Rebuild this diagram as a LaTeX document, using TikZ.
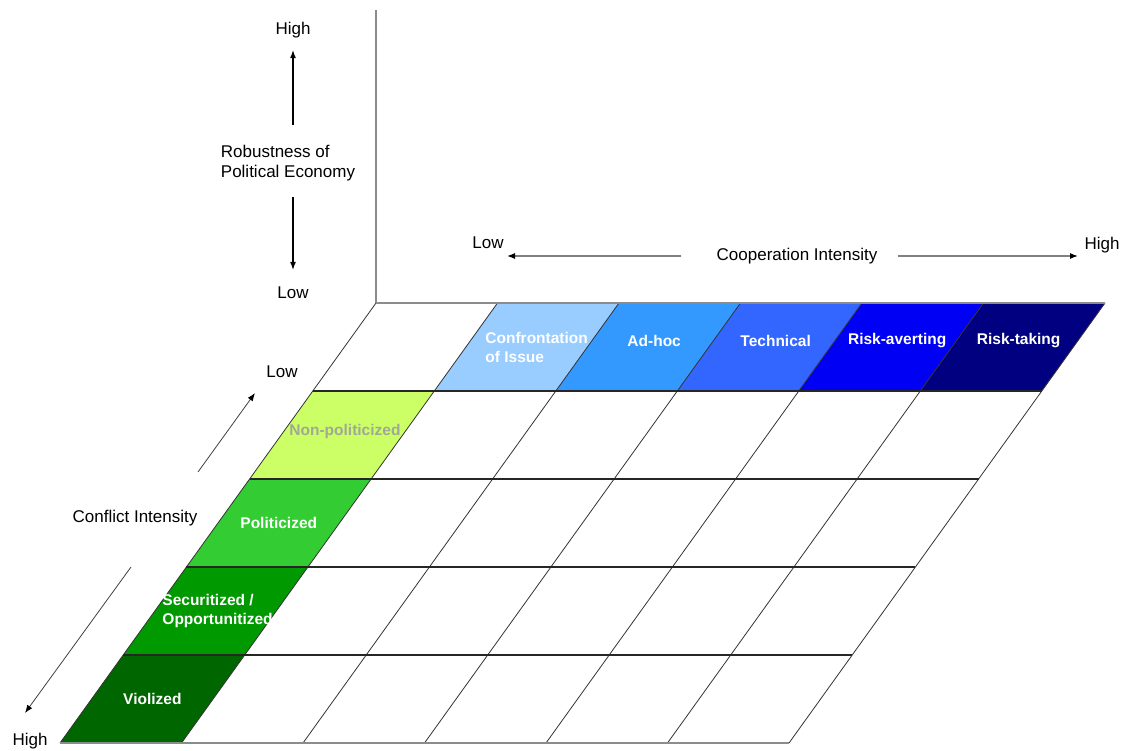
\documentclass[tikz,border=0pt]{standalone}
\usepackage{fontspec}
\setmainfont{Liberation Sans}
\usetikzlibrary{arrows.meta,calc}
\definecolor{confront}{RGB}{153,204,255}
\definecolor{adhoc}{RGB}{51,153,255}
\definecolor{technical}{RGB}{51,102,255}
\definecolor{riskavert}{RGB}{0,0,245}
\definecolor{risktake}{RGB}{0,0,128}
\definecolor{nonpol}{RGB}{204,255,102}
\definecolor{pol}{RGB}{51,204,51}
\definecolor{secur}{RGB}{0,153,0}
\definecolor{viol}{RGB}{0,102,0}
\definecolor{nonpoltext}{RGB}{160,168,150}

\begin{document}
\begin{tikzpicture}[
  x=1pt,y=-1pt,
  axislabel/.style={font=\fontsize{17}{20}\selectfont,inner sep=1pt},
  celllabel/.style={font=\fontsize{15.5}{19}\selectfont\bfseries,text=white,inner sep=1pt},
  rowline/.style={line width=1.8pt,draw=black!85},
  edgeline/.style={line width=1.3pt,draw=black!45},
  colline/.style={line width=0.8pt,draw=black!80},
  axisarrow/.style={line width=1.2pt,-{Latex[length=8pt,width=6pt]}},
  grayarrow/.style={line width=1.2pt,draw=black!50,-{Latex[length=8pt,width=6pt,color=black]}},
  thinarrow/.style={line width=0.8pt,draw=black!75,-{Latex[length=8pt,width=6pt,color=black]}}
]
\useasboundingbox (0,0) rectangle (1126,751);

% grid corners: column i, row j
\foreach \i in {0,...,6}
  \foreach \j in {0,...,5}
    \coordinate (p-\i-\j) at ({376+121.5*\i-63.2*\j},{303+88*\j});

% coloured cells
\foreach \i/\c in {1/confront,2/adhoc,3/technical,4/riskavert,5/risktake}{
  \pgfmathtruncatemacro\k{\i+1}
  \fill[fill=\c] (p-\i-0) -- (p-\k-0) -- (p-\k-1) -- (p-\i-1) -- cycle;
}
\foreach \j/\c in {1/nonpol,2/pol,3/secur,4/viol}{
  \pgfmathtruncatemacro\k{\j+1}
  \fill[fill=\c] (p-0-\j) -- (p-1-\j) -- (p-1-\k) -- (p-0-\k) -- cycle;
}

% grid lines
\foreach \i in {0,...,6}
  \draw[colline] (p-\i-0) -- (p-\i-5);
\foreach \j in {1,...,4}
  \draw[rowline] (p-0-\j) -- (p-6-\j);
\draw[edgeline] (p-0-0) -- (p-6-0);
\draw[edgeline] (p-0-5) -- (p-6-5);
\coordinate (vtop) at (376,10);
\draw[edgeline] (p-0-0) -- (vtop);

% cooperation types
\node[celllabel,align=left] (confr) at ($(p-1-0)!0.5!(p-2-1)$) [xshift=10pt] {Confrontation\\of Issue};
\foreach \i/\lab/\nm in {2/Ad-hoc/adhoc,3/Technical/tech,4/Risk-averting/avert,5/Risk-taking/take}{
  \pgfmathtruncatemacro\k{\i+1}
  \node[celllabel] (\nm) at ($(p-\i-0)!0.5!(p-\k-1)$) [xshift=6pt,yshift=6pt] {\lab};
}

% conflict types
\node[celllabel,text=nonpoltext] (nonpol) at ($(p-0-1)!0.5!(p-1-2)$) [xshift=3pt,yshift=4pt] {Non-politicized};
\node[celllabel] (pol) at ($(p-0-2)!0.5!(p-1-3)$) {Politicized};
\node[celllabel,align=left] (secur) at ($(p-0-3)!0.5!(p-1-4)$) [xshift=2pt] {Securitized /\\Opportunitized};
\node[celllabel] (viol) at ($(p-0-4)!0.5!(p-1-5)$) {Violized};

% robustness axis
\node[axislabel] (robhigh) at (293,30) {High};
\node[axislabel,align=left] (rob) at (288,163) {Robustness of\\Political Economy};
\node[axislabel] (roblow) at (293,293) {Low};
\draw[axisarrow,shorten <=19pt,shorten >=11pt] (rob.north-|robhigh) -- (robhigh);
\draw[axisarrow,shorten <=15pt,shorten >=16pt] (rob.south-|roblow) -- (roblow);

% cooperation axis
\node[axislabel] (coop) at (797,256) {Cooperation Intensity};
\node[axislabel] (cooplow) at (488,243) {Low};
\node[axislabel] (coophigh) at (1102,245) {High};
\coordinate (cooplowtip) at (507,256);
\coordinate (coophightip) at (1078,256);
\draw[grayarrow,shorten <=34pt] (coop) -- (cooplowtip);
\draw[grayarrow,shorten <=19pt] (coop) -- (coophightip);

% conflict axis
\node[axislabel] (confl) at (135,518) {Conflict Intensity};
\node[axislabel] (confllow) at (282,372) {Low};
\node[axislabel] (conflhigh) at (30,741) {High};
\coordinate (confup-a) at (198,472);
\coordinate (confup-b) at (255,393);
\coordinate (confdown-a) at (131,567);
\coordinate (confdown-b) at (25,713);
\draw[thinarrow] (confup-a) -- (confup-b);
\draw[thinarrow] (confdown-a) -- (confdown-b);

\end{tikzpicture}
\end{document}
